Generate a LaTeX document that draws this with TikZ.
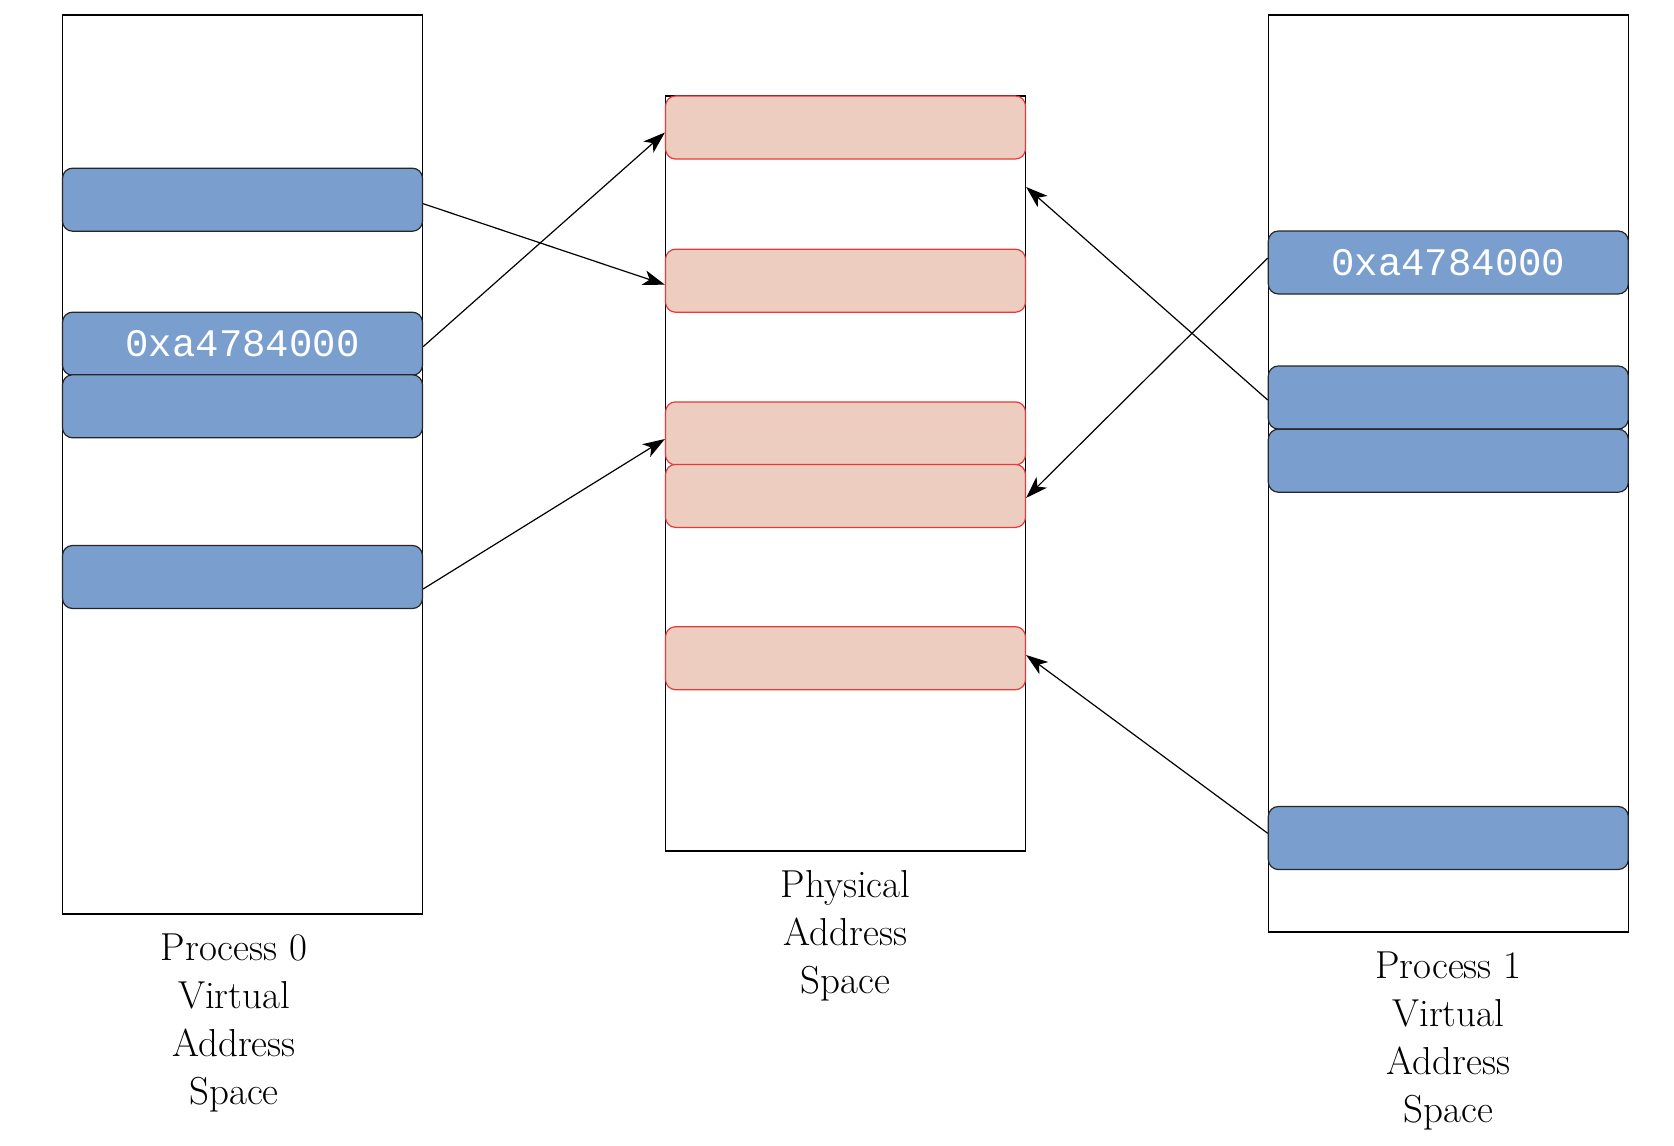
\documentclass[tikz,border=0pt]{standalone}
\usepackage{fontspec}
\setmonofont{Liberation Mono}
\usetikzlibrary{arrows.meta}
\definecolor{vblue}{RGB}{122,159,206}
\definecolor{pfill}{RGB}{237,205,192}
\definecolor{pdraw}{RGB}{232,56,56}
\begin{document}
\begin{tikzpicture}[x=0.5pt,y=-0.5pt,
  space/.style={draw=black,line width=0.6pt,minimum width=180pt,inner sep=0pt},
  vpage/.style={draw=black!85,fill=vblue,line width=0.6pt,rounded corners=5pt,minimum width=180pt,minimum height=31.5pt,inner sep=0pt,text=white,font=\ttfamily\fontsize{19.5}{20}\selectfont},
  ppage/.style={draw=pdraw,fill=pfill,line width=0.6pt,rounded corners=5pt,minimum width=180pt,minimum height=31.5pt,inner sep=0pt},
  lbl/.style={align=center,font=\fontsize{19.5}{24}\selectfont,inner sep=0pt},
  map/.style={line width=0.6pt,-{Stealth[length=11pt,width=7.5pt,inset=3pt]}}]
\useasboundingbox (0,0) rectangle (1674,1145);
% address spaces
\node[space,minimum height=449.5pt] (v0) at (242.5,464.5) {};
\node[space,minimum height=377.5pt] (phys) at (845.5,473.5) {};
\node[space,minimum height=458.5pt] (v1) at (1448.3,473.5) {};
% physical pages
\node[ppage] (r1) at (845.5,127.5) {};
\node[ppage] (r2) at (845.5,280.7) {};
\node[ppage] (r3) at (845.5,433.4) {};
\node[ppage] (r4) at (845.5,495.9) {};
\node[ppage] (r5) at (845.5,658.2) {};
% process 0 pages
\node[vpage] (b1) at (242.5,199.7) {};
\node[vpage] (b2) at (242.5,343.7) {0xa4784000};
\node[vpage] (b3) at (242.5,406.3) {};
\node[vpage] (b4) at (242.5,577) {};
% process 1 pages
\node[vpage] (c1) at (1448.3,262.5) {0xa4784000};
\node[vpage] (c2) at (1448.3,397.5) {};
\node[vpage] (c3) at (1448.3,460.7) {};
\node[vpage] (c4) at (1448.3,838) {};
% labels (base anchor = baseline of last line)
\node[lbl,anchor=base] (l0) at (234,1104) {Process 0\\Virtual\\Address\\Space};
\node[lbl,anchor=base] (lp) at (845.5,993) {Physical\\Address\\Space};
\node[lbl,anchor=base] (l1) at (1448.3,1122) {Process 1\\Virtual\\Address\\Space};
% mappings
\draw[map] ([yshift=-2pt]b1.east) -- ([yshift=-2pt]r2.west);
\draw[map] ([yshift=-1.5pt]b2.east) -- ([yshift=-2.5pt]r1.west);
\draw[map] ([yshift=-6pt]b4.east) -- ([yshift=-2.8pt]r3.west);
\draw[map] ([yshift=-1.25pt]c2.west) -- ([yshift=143.25pt]phys.east);
\draw[map] ([yshift=2.25pt]c1.west) -- ([yshift=-1pt]r4.east);
\draw[map] ([yshift=2.35pt]c4.west) -- ([yshift=1.6pt]r5.east);
\end{tikzpicture}
\end{document}
